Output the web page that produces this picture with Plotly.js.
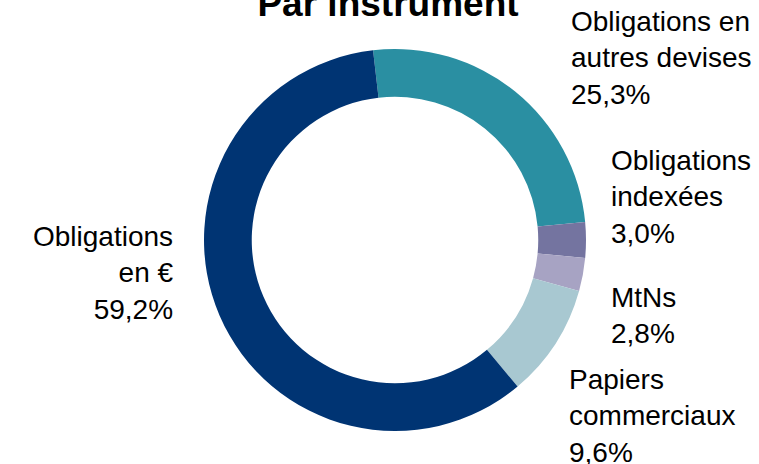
<!DOCTYPE html>
<html>
<head>
<meta charset="utf-8">
<script src="https://cdn.plot.ly/plotly-3.0.1.min.js"></script>
<style>html,body{margin:0;padding:0;background:#fff;}#chart{width:759px;height:464px;}</style>
</head>
<body>
<div id="chart"></div>
<script>
var categories = ["Obligations en autres devises", "Obligations indexées", "MtNs", "Papiers commerciaux", "Obligations en €"];
var labelLines = [["Obligations en", "autres devises"], ["Obligations", "indexées"], ["MtNs"], ["Papiers", "commerciaux"], ["Obligations", "en €"]];
var values = [25.3, 3.0, 2.8, 9.6, 59.2];
var colors = ["#2a8fa2", "#7474a0", "#a7a3c3", "#a8c8d1", "#003473"];

// label placement (layout only)
var labelPos = [
  {x: 569, y: 58, anchor: "left"},
  {x: 609, y: 197, anchor: "left"},
  {x: 609, y: 315, anchor: "left"},
  {x: 567, y: 416, anchor: "left"},
  {x: 176, y: 273, anchor: "right"}
];
var W = 759, H = 464;
function fmt(v){ return v.toFixed(1).replace(".", ",") + "%"; }

var annotations = categories.map(function(c, i){
  var p = labelPos[i];
  return {
    text: labelLines[i].concat([fmt(values[i])]).join("<br>"),
    xref: "paper", yref: "paper",
    x: p.x / W, y: 1 - p.y / H,
    xanchor: p.anchor, yanchor: "middle", align: p.anchor,
    showarrow: false,
    font: {family: "Liberation Sans, Arial, sans-serif", size: 28, color: "#000"}
  };
});

var cx = 395, cy = 240, R = 191;
var trace = {
  type: "pie",
  labels: categories,
  values: values,
  sort: false,
  direction: "clockwise",
  rotation: -6.6,
  hole: 0.75,
  textinfo: "none",
  hoverinfo: "label+percent",
  marker: {colors: colors, line: {color: "#ffffff", width: 0}},
  domain: {x: [(cx - R) / W, (cx + R) / W], y: [1 - (cy + R) / H, 1 - (cy - R) / H]},
  showlegend: false
};

var layout = {
  width: W, height: H,
  margin: {l: 0, r: 0, t: 0, b: 0},
  paper_bgcolor: "#ffffff",
  title: {
    text: "<b>Par instrument</b>",
    font: {family: "Liberation Sans, Arial, sans-serif", size: 37, color: "#000"},
    x: 388 / W, xanchor: "center",
    yref: "container", y: 1 - 16 / H, yanchor: "bottom"
  },
  annotations: annotations
};

Plotly.newPlot("chart", [trace], layout, {displayModeBar: false, staticPlot: true});
</script>
</body>
</html>
